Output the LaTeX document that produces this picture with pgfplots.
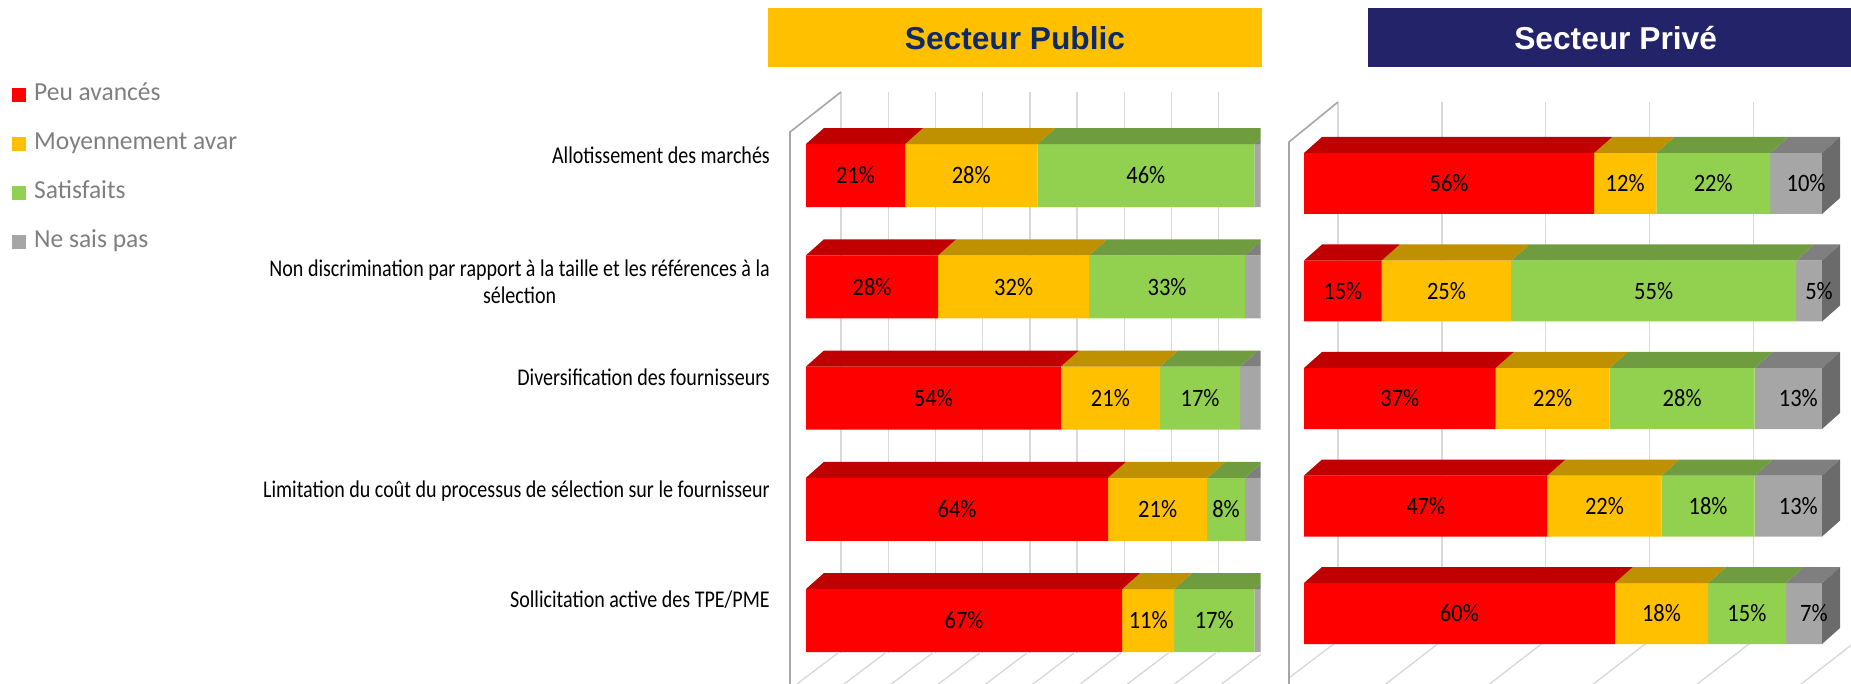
\documentclass[border=0pt]{standalone}
\usepackage{fontspec}
\usepackage{pgfplots}
\usepackage{pgfplotstable}
\pgfplotsset{compat=1.18}
\setmainfont{Carlito}
\newfontfamily\catfont[FakeStretch=0.835]{Carlito}
\newfontfamily\pctfont[FakeStretch=0.9]{Carlito}
\newfontfamily\legfont[FakeStretch=0.98]{Carlito}
\newfontfamily\titfont{Liberation Sans}

\definecolor{fred}{HTML}{FF0000}
\definecolor{tred}{HTML}{C00000}
\definecolor{forg}{HTML}{FFC000}
\definecolor{torg}{HTML}{BF9000}
\definecolor{fgrn}{HTML}{92D050}
\definecolor{tgrn}{HTML}{6E9C3E}
\definecolor{fgry}{HTML}{A6A6A6}
\definecolor{tgry}{HTML}{7F7F7F}
\definecolor{sgry}{HTML}{6B6B6B}
\definecolor{pubyel}{HTML}{FFC000}
\definecolor{privnavy}{HTML}{232369}
\definecolor{titnavy}{HTML}{0E2A66}
\definecolor{legtxt}{HTML}{7F7F7F}
\definecolor{gridc}{HTML}{D9D9D9}
\definecolor{wallc}{HTML}{A6A6A6}

% Secteur Public
\pgfplotstableread{
idx peu moy sat nsp
0 21 28 46 5
1 28 32 33 7
2 54 21 17 8
3 64 21 8 7
4 67 11 17 5
}\pubdata
% Secteur Prive
\pgfplotstableread{
idx peu moy sat nsp
0 56 12 22 10
1 15 25 55 5
2 37 22 28 13
3 47 22 18 13
4 60 18 15 7
}\pridata

\def\curscale{4.72}\def\curhalf{31.5}\def\depX{18}\def\depY{16}
% top face (and optional side face) of one stacked segment, drawn from the
% label node placed at the segment centre; #3 = extra label shift
\newcommand\facedraw[3]{%
  \pgfmathsetmacro\fw{\pgfplotspointmeta*\curscale}%
  \pgfmathsetmacro\fl{-\fw/2-#3}%
  \pgfmathsetmacro\fr{\fw/2-#3}%
  \fill[#1] ([shift={(\fl pt,\curhalf pt)}]\tikzlastnode.center)
    -- ([shift={(\fl pt+\depX pt,\curhalf pt+\depY pt)}]\tikzlastnode.center)
    -- ([shift={(\fr pt+\depX pt,\curhalf pt+\depY pt)}]\tikzlastnode.center)
    -- ([shift={(\fr pt,\curhalf pt)}]\tikzlastnode.center) -- cycle;
  \ifx#2\relax\else
  \fill[#2] ([shift={(\fr pt,\curhalf pt)}]\tikzlastnode.center)
    -- ([shift={(\fr pt+\depX pt,\curhalf pt+\depY pt)}]\tikzlastnode.center)
    -- ([shift={(\fr pt+\depX pt,-\curhalf pt+\depY pt)}]\tikzlastnode.center)
    -- ([shift={(\fr pt,-\curhalf pt)}]\tikzlastnode.center) -- cycle;
  \fi}

\pgfplotsset{
  segplot/.style n args={5}{fill=#1, draw=none,
    point meta=explicit symbolic,
    nodes near coords={#5},
    every node near coord/.append style={anchor=center, inner sep=0pt,
      font=\pctfont\fontsize{25}{30}\selectfont, text=black,
      xshift={#4 pt},
      append after command={\pgfextra{\facedraw{#2}{#3}{#4}}}},
    legend image code/.code={\fill[#1] (0pt,-7pt) rectangle (13.5pt,7pt);}},
  common/.style={scale only axis, axis lines=none, xtick=\empty, ytick=\empty,
    xbar stacked, y dir=reverse, anchor=south west},
}

\begin{document}
\begin{tikzpicture}
\useasboundingbox (0pt,0pt) rectangle (1851pt,684pt);
\clip (0pt,0pt) rectangle (1851pt,684pt);
\begin{scope}[shift={(0pt,684pt)}, x=1pt, y=-1pt]
  % public back wall
  \foreach \k in {0,...,8} {\draw[gridc, line width=1.4pt] ({841+47.2*\k},92) -- ({841+47.2*\k},653);}
  \begin{scope}
    \clip (780,600) rectangle (1261,690);
    \foreach \k in {0,...,9} {\draw[gridc, line width=1.4pt] ({838+47.2*\k},653) -- ({793+47.2*\k},687);}
  \end{scope}
  \draw[wallc, line width=1.6pt] (790,690) -- (790,132) -- (841,92);
  % private back wall
  \foreach \k in {0,...,4} {\draw[gridc, line width=1.4pt] ({1338+103.8*\k},102) -- ({1338+103.8*\k},643);}
  \draw[gridc, line width=1.4pt] (1335,643) -- (1290,677);
  \foreach \k in {1,...,5} {\draw[gridc, line width=1.4pt] ({1335+103.8*\k},643) -- ({1282+103.8*\k},684);}
  \draw[wallc, line width=1.6pt] (1289,690) -- (1289,142) -- (1338,102);
  % titles
  \fill[pubyel] (768,8) rectangle (1262,67);
  \node[anchor=base, inner sep=0pt, text=titnavy, font=\titfont\bfseries\fontsize{31.7}{38}\selectfont] at (1015,49.3) {Secteur Public};
  \fill[privnavy] (1368,8) rectangle (1851,67);
  \node[anchor=base, inner sep=0pt, text=white, font=\titfont\bfseries\fontsize{31.7}{38}\selectfont] at (1615.6,49.3) {Secteur Privé};
  % category labels
  \tikzset{cat/.style={anchor=base east, inner sep=0pt, font=\catfont\fontsize{24}{29}\selectfont}}
  \node[cat] at (770,163.5) {Allotissement des marchés};
  \node[cat] (nd) at (770,276.3) {Non discrimination par rapport à la taille et les références à la};
  \node[anchor=base, inner sep=0pt, font=\catfont\fontsize{24}{29}\selectfont] at ([yshift=-27pt]nd.base) {sélection};
  \node[cat] at (770,385.5) {Diversification des fournisseurs};
  \node[cat] at (770,497.5) {Limitation du coût du processus de sélection sur le fournisseur};
  \node[cat] at (770,607.5) {Sollicitation active des TPE/PME};
\end{scope}

% ---------- Secteur Public ----------
\def\curscale{4.72}\def\curhalf{31.5}
\begin{scope}
\clip (0pt,0pt) rectangle (1260.5pt,684pt);
\begin{axis}[common, at={(782.4pt,-3.25pt)}, width=477.66pt, height=600.75pt,
  xmin=-5, xmax=96.2, ymin=-0.8, ymax=4.6, bar width=63pt, clip=false,
  legend cell align=left,
  legend style={at={(axis description cs:-1.6129,1.00666)}, anchor=north west,
    draw=none, fill=none, inner sep=0pt, row sep=25pt, column sep=8.5pt,
    font=\legfont\fontsize{26}{31}\selectfont, text=legtxt,
    nodes={inner sep=0pt, text height=18pt, text depth=6pt}}]
\addplot[segplot={fred}{tred}{\relax}{0}{\pgfplotspointmeta\%}]
  table[x=peu, y=idx, meta=peu] {\pubdata};
\addlegendentry{Peu avancés}
\addplot[segplot={forg}{torg}{\relax}{0}{\pgfplotspointmeta\%}]
  table[x=moy, y=idx, meta=moy] {\pubdata};
\addlegendentry{Moyennement avar}
\addplot[segplot={fgrn}{tgrn}{\relax}{0}{\pgfplotspointmeta\%}]
  table[x=sat, y=idx, meta=sat] {\pubdata};
\addlegendentry{Satisfaits}
\addplot[segplot={fgry}{tgry}{\relax}{0}{}]
  table[x=nsp, y=idx, meta=nsp] {\pubdata};
\addlegendentry{Ne sais pas}
\end{axis}
\end{scope}

% ---------- Secteur Prive ----------
\def\curscale{5.18}\def\curhalf{30.5}
\begin{axis}[common, at={(1278.1pt,-4.75pt)}, width=595.7pt, height=591.25pt,
  xmin=-5, xmax=110, ymin=-0.8, ymax=4.7, bar width=61pt, clip=false]
\addplot[segplot={fred}{tred}{\relax}{0}{\pgfplotspointmeta\%}]
  table[x=peu, y=idx, meta=peu] {\pridata};
\addplot[segplot={forg}{torg}{\relax}{0}{\pgfplotspointmeta\%}]
  table[x=moy, y=idx, meta=moy] {\pridata};
\addplot[segplot={fgrn}{tgrn}{\relax}{0}{\pgfplotspointmeta\%}]
  table[x=sat, y=idx, meta=sat] {\pridata};
\addplot[segplot={fgry}{tgry}{sgry}{10}{\pgfplotspointmeta\%}]
  table[x=nsp, y=idx, meta=nsp] {\pridata};
\end{axis}
\end{tikzpicture}
\end{document}
